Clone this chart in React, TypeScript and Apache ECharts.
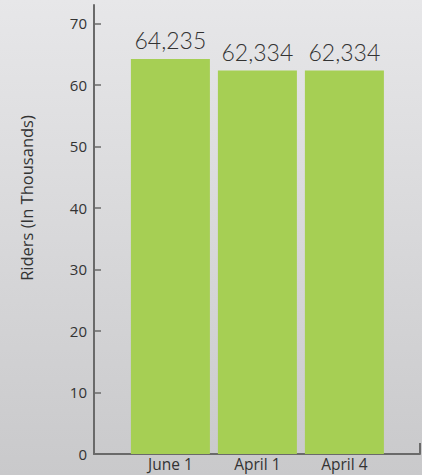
import React, { useEffect, useRef } from "react";
import * as echarts from "echarts";

const categories = ["June 1", "April 1", "April 4"];
const riders = [64.235, 62.334, 62.334];
const yTicks = [0, 10, 20, 30, 40, 50, 60, 70];
const yName = "Riders (In Thousands)";

export default function App() {
  const ref = useRef<HTMLDivElement>(null);
  useEffect(() => {
    if (!ref.current) return;
    const chart = echarts.init(ref.current, null, { renderer: "svg" });
    const axisColor = "#6a6a6a";
    const textColor = "#333333";
    const font = "'Open Sans', sans-serif";
    chart.setOption({
      animation: false,
      backgroundColor: new echarts.graphic.LinearGradient(0, 0, 0, 1, [
        { offset: 0, color: "#e7e7e9" },
        { offset: 1, color: "#c9c9cb" },
      ]),
      grid: [
        { left: 94, right: 2, top: 5, bottom: 21 },
        { left: 126.9, right: 34.1, top: 5, bottom: 21 },
      ],
      xAxis: [
        {
          gridIndex: 0,
          type: "value",
          min: 0,
          max: 1,
          splitLine: { show: false },
          axisLabel: { show: false },
          axisLine: { show: true, lineStyle: { color: axisColor, width: 2 } },
          axisTick: {
            show: true,
            inside: true,
            length: 11,
            customValues: [1],
            lineStyle: { color: axisColor, width: 2 },
          },
        },
        {
          gridIndex: 1,
          type: "category",
          data: categories,
          axisLine: { show: false },
          axisTick: { show: false },
          axisLabel: {
            margin: 2,
            color: textColor,
            fontSize: 15.5,
            fontFamily: font,
          },
        },
      ],
      yAxis: [
        {
          gridIndex: 0,
          type: "value",
          min: 0,
          max: 73,
          interval: 10,
          splitLine: { show: false },
          axisLine: { show: true, lineStyle: { color: axisColor, width: 2 } },
          axisTick: {
            show: true,
            inside: true,
            length: 7,
            customValues: yTicks.slice(1),
            lineStyle: { color: axisColor, width: 1.5 },
          },
          axisLabel: {
            customValues: yTicks,
            margin: 7,
            color: textColor,
            fontSize: 15,
            fontFamily: font,
          },
        },
        {
          gridIndex: 1,
          type: "value",
          min: 0,
          max: 73,
          show: false,
          splitLine: { show: false },
        },
      ],
      graphic: [
        {
          type: "text",
          x: 26,
          y: 198,
          rotation: Math.PI / 2,
          style: {
            text: yName,
            fill: textColor,
            fontSize: 16.5,
            fontFamily: font,
            align: "center",
            verticalAlign: "middle",
          },
        },
      ],
      series: [
        {
          type: "bar",
          xAxisIndex: 1,
          yAxisIndex: 1,
          data: riders,
          barWidth: 79,
          itemStyle: { color: "#a6cf54" },
          label: {
            show: true,
            position: "top",
            distance: 7,
            color: textColor,
            fontSize: 23,
            fontWeight: 300,
            fontFamily: "Lato, sans-serif",
            formatter: (p: any) => Math.round(p.value * 1000).toLocaleString("en-US"),
          },
        },
      ],
    });
    return () => chart.dispose();
  }, []);
  return (
    <div
      ref={ref}
      style={{ position: "fixed", left: 0, top: 0, width: 422, height: 475 }}
    />
  );
}
